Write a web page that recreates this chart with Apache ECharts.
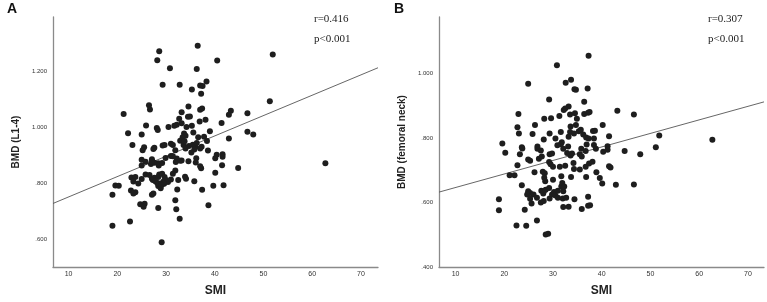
<!DOCTYPE html>
<html>
<head>
<meta charset="utf-8">
<script src="https://cdn.jsdelivr.net/npm/echarts@6/dist/echarts.min.js"></script>
<style>
	html, body { margin: 0; padding: 0; background: #fff; }
	#main { width: 767px; height: 302px; }
</style>
</head>
<body>
<div id="main"></div>
<script>
// panel A: SMI vs BMD (L1-4)
var pointsA = [
	[36.5,1.290],[28.6,1.270],[28.2,1.238],[40.5,1.237],[51.9,1.259],[30.8,1.210],[36.3,1.207],
	[29.3,1.151],[32.8,1.151],[37.0,1.148],[37.5,1.147],[38.3,1.163],[35.3,1.134],[37.2,1.119],
	[51.3,1.092],[26.5,1.078],[26.7,1.063],[21.3,1.047],[33.2,1.053],[34.6,1.074],[37.0,1.062],
	[37.4,1.067],[43.3,1.059],[42.9,1.044],[46.7,1.050],[41.4,1.015],[38.1,1.027],[36.9,1.020],
	[34.5,1.037],[34.9,1.038],[32.7,1.030],[33.2,1.014],[31.7,1.005],[32.2,1.009],[30.5,1.001],
	[34.2,1.001],[35.3,1.005],[28.1,0.997],[28.3,0.990],[25.9,1.006],[22.2,0.979],[25.0,0.974],
	[35.6,0.981],[36.6,0.964],[37.8,0.966],[39.0,0.986],[33.7,0.978],[34.0,0.970],[32.9,0.952],
	[33.4,0.964],[46.7,0.984],[47.9,0.974],[42.9,0.960],[38.4,0.951],[23.1,0.937],[25.5,0.929],
	[27.6,0.927],[29.3,0.935],[29.7,0.937],[31.0,0.941],[31.4,0.937],[33.6,0.937],[33.8,0.950],
	[34.7,0.933],[36.0,0.930],[37.3,0.931],[35.5,0.938],[36.3,0.944],
	[25.2,0.918],[27.4,0.923],[31.9,0.918],[34.0,0.924],[35.8,0.921],[37.0,0.924],[38.6,0.917],
	[35.2,0.910],[40.4,0.902],[41.6,0.904],[41.6,0.895],[25.0,0.884],[27.1,0.886],[29.9,0.891],
	[32.2,0.889],[33.2,0.882],[31.0,0.898],[31.4,0.897],[26.9,0.869],[28.4,0.872],[25.8,0.877],
	[27.6,0.874],[27.1,0.879],[25.0,0.864],[28.5,0.864],[29.2,0.873],[32.0,0.876],[32.9,0.881],
	[34.6,0.879],[36.2,0.890],[36.1,0.875],[37.2,0.854],[37.0,0.861],[40.1,0.890],[41.5,0.865],
	[44.8,0.855],[62.7,0.872],[25.8,0.832],[25.0,0.816],[22.9,0.821],[23.7,0.823],[24.3,0.800],
	[23.3,0.807],[19.6,0.793],[20.3,0.792],[26.6,0.830],[27.1,0.817],[27.6,0.820],[28.4,0.823],
	[27.3,0.812],[27.8,0.808],[28.2,0.802],[28.6,0.832],[29.2,0.835],[29.7,0.823],[30.0,0.812],
	[30.4,0.805],[29.4,0.806],[29.6,0.799],[31.0,0.814],[31.4,0.835],[31.9,0.846],[32.5,0.812],
	[33.9,0.824],[34.1,0.817],[35.8,0.808],[37.4,0.778],[39.7,0.792],[41.8,0.794],[40.1,0.838],
	[19.0,0.760],[22.8,0.775],[23.7,0.769],[23.3,0.764],[24.7,0.726],[25.6,0.728],[25.4,0.717],
	[27.1,0.760],[27.4,0.764],[28.4,0.791],[28.5,0.800],[28.9,0.783],[29.1,0.795],[32.3,0.779],
	[31.9,0.740],[32.1,0.708],[28.4,0.713],[32.8,0.675],[38.7,0.723],[22.6,0.665],[19.0,0.650],
	[29.1,0.591]
];
// panel B: SMI vs BMD (femoral neck)
var pointsB = [
	[37.3,1.056],[30.8,1.026],[33.7,0.981],[32.6,0.972],[24.9,0.969],[34.4,0.952],[34.7,0.950],
	[37.1,0.954],[29.2,0.920],[36.4,0.913],[33.2,0.898],[32.2,0.887],[32.5,0.892],[22.9,0.875],
	[33.5,0.873],[34.5,0.877],[36.4,0.875],[37.2,0.879],[37.5,0.881],[31.3,0.869],[28.2,0.860],
	[29.6,0.862],[43.2,0.885],[46.6,0.873],[34.9,0.860],[34.7,0.841],[33.6,0.836],[26.3,0.841],
	[22.7,0.834],[40.2,0.841],[35.3,0.821],[35.7,0.826],[31.6,0.819],[33.5,0.819],[23.0,0.814],
	[25.8,0.813],[29.3,0.814],[28.1,0.796],[30.5,0.799],[31.8,0.787],[31.6,0.781],[33.2,0.804],
	[34.3,0.814],[36.2,0.811],[36.8,0.802],[37.3,0.799],[38.2,0.822],[38.6,0.823],[38.4,0.799],
	[41.5,0.806],[51.8,0.808],[62.7,0.795],[19.6,0.783],[23.6,0.772],[26.8,0.774],[30.9,0.778],
	[33.1,0.774],[36.9,0.780],[38.4,0.779],[41.2,0.775],[51.1,0.772],
	[20.2,0.755],[23.7,0.768],[23.2,0.750],[26.8,0.767],[27.5,0.762],[29.3,0.750],[29.8,0.752],
	[32.1,0.767],[33.6,0.746],[32.9,0.754],[35.5,0.750],[35.9,0.743],[36.7,0.760],[35.8,0.767],
	[38.8,0.767],[40.3,0.758],[41.2,0.764],[44.7,0.760],[47.9,0.750],[22.7,0.716],[21.1,0.685],
	[22.1,0.685],[24.9,0.734],[25.3,0.730],[27.1,0.736],[27.7,0.743],[29.2,0.726],[29.5,0.719],
	[30.0,0.711],[31.4,0.711],[32.5,0.714],[33.9,0.752],[34.2,0.723],[35.5,0.703],[36.7,0.711],
	[37.4,0.721],[38.1,0.727],[34.3,0.704],[26.2,0.694],[27.9,0.696],[28.3,0.691],[28.2,0.677],
	[28.4,0.666],[30.0,0.671],[31.7,0.682],[33.7,0.679],[36.8,0.679],[38.9,0.694],[39.6,0.676],
	[40.1,0.659],[41.5,0.713],[41.8,0.709],[42.9,0.655],[46.6,0.656],[23.6,0.654],[24.9,0.635],
	[25.3,0.630],[26.0,0.625],[24.7,0.625],[26.7,0.615],[25.3,0.612],[25.6,0.597],[27.6,0.637],
	[28.1,0.635],[28.0,0.628],[27.5,0.600],[28.1,0.605],[28.5,0.640],[29.2,0.645],[29.3,0.613],
	[29.8,0.625],[30.2,0.633],[30.5,0.622],[31.0,0.615],[31.0,0.637],[31.7,0.650],[31.9,0.661],
	[32.1,0.635],[32.3,0.650],[32.0,0.613],[32.7,0.615],[32.1,0.586],[33.2,0.587],[34.4,0.610],
	[35.9,0.580],[37.2,0.618],[37.2,0.590],[37.6,0.592],[18.9,0.610],[18.9,0.576],[24.2,0.578],
	[22.5,0.529],[24.5,0.528],[26.7,0.544],[28.5,0.501],[29.0,0.503]
];
// fit lines, end points at the axis limits
var fitA = [[6.8, 0.729], [73.5, 1.2115]];
var fitB = [[6.6, 0.6325], [73.3, 0.9125]];
var xTicks = [10, 20, 30, 40, 50, 60, 70];
var yTicksA = [0.6, 0.8, 1.0, 1.2];
var yTicksB = [0.4, 0.6, 0.8, 1.0];
var statsA = ['r=0.416', 'p<0.001'];
var statsB = ['r=0.307', 'p<0.001'];

var myChart = echarts.init(document.getElementById('main'));

function bmdLabel(v) {
	return v.toFixed(3).replace(/^0/, '');
}

function xAxisOf(idx, min, max) {
	return {
		type: 'value',
		gridIndex: idx,
		min: min,
		max: max,
		name: 'SMI',
		nameLocation: 'middle',
		nameGap: 18,
		nameTextStyle: { fontFamily: 'Liberation Sans', fontWeight: 'bold', fontSize: 12, color: '#222' },
		splitLine: { show: false },
		axisLine: { lineStyle: { color: '#8a8a8a', width: 1.3 } },
		axisTick: { show: false },
		axisLabel: {
			customValues: xTicks,
			fontSize: 7,
			color: '#333',
			margin: 4,
			fontFamily: 'Liberation Sans'
		}
	};
}

function yAxisOf(idx, min, max, name, ticks) {
	return {
		type: 'value',
		gridIndex: idx,
		min: min,
		max: max,
		name: name,
		nameLocation: 'middle',
		nameGap: 32,
		nameTextStyle: { fontFamily: 'Liberation Sans', fontWeight: 'bold', fontSize: 10, color: '#222' },
		splitLine: { show: false },
		axisLine: { show: true, lineStyle: { color: '#8a8a8a', width: 1.3 } },
		axisTick: { show: false },
		axisLabel: {
			customValues: ticks,
			formatter: bmdLabel,
			fontSize: 6,
			color: '#333',
			margin: 6,
			fontFamily: 'Liberation Sans'
		}
	};
}

var dotStyle = { color: '#1e1e1e', opacity: 1 };
var lineStyle = { color: '#555', width: 0.9 };

var option = {
	animation: false,
	grid: [
		{ left: 53, right: 389, top: 17, bottom: 30 },
		{ left: 439, right: 3, top: 17, bottom: 30 }
	],
	xAxis: [
		xAxisOf(0, 6.8, 73.5),
		xAxisOf(1, 6.6, 73.3)
	],
	yAxis: [
		yAxisOf(0, 0.503, 1.392, 'BMD (L1-4)', yTicksA),
		yAxisOf(1, 0.4, 1.176, 'BMD (femoral neck)', yTicksB)
	],
	graphic: [
		{ type: 'text', left: 7, top: 2, style: { text: 'A', font: 'bold 14px "Liberation Sans"', fill: '#111' } },
		{ type: 'text', left: 394, top: 2, style: { text: 'B', font: 'bold 14px "Liberation Sans"', fill: '#111' } },
		{ type: 'text', left: 314, top: 14, style: { text: statsA[0], font: '11px "Liberation Serif"', fill: '#222' } },
		{ type: 'text', left: 314, top: 34, style: { text: statsA[1], font: '11px "Liberation Serif"', fill: '#222' } },
		{ type: 'text', left: 708, top: 14, style: { text: statsB[0], font: '11px "Liberation Serif"', fill: '#222' } },
		{ type: 'text', left: 708, top: 34, style: { text: statsB[1], font: '11px "Liberation Serif"', fill: '#222' } }
	],
	series: [
		{
			type: 'line',
			xAxisIndex: 0,
			yAxisIndex: 0,
			data: fitA,
			showSymbol: false,
			lineStyle: lineStyle,
			z: 1
		},
		{
			type: 'scatter',
			xAxisIndex: 0,
			yAxisIndex: 0,
			data: pointsA,
			symbolSize: 6,
			itemStyle: dotStyle,
			z: 2
		},
		{
			type: 'line',
			xAxisIndex: 1,
			yAxisIndex: 1,
			data: fitB,
			showSymbol: false,
			lineStyle: lineStyle,
			z: 1
		},
		{
			type: 'scatter',
			xAxisIndex: 1,
			yAxisIndex: 1,
			data: pointsB,
			symbolSize: 6,
			itemStyle: dotStyle,
			z: 2
		}
	]
};

option && myChart.setOption(option);
</script>
</body>
</html>
